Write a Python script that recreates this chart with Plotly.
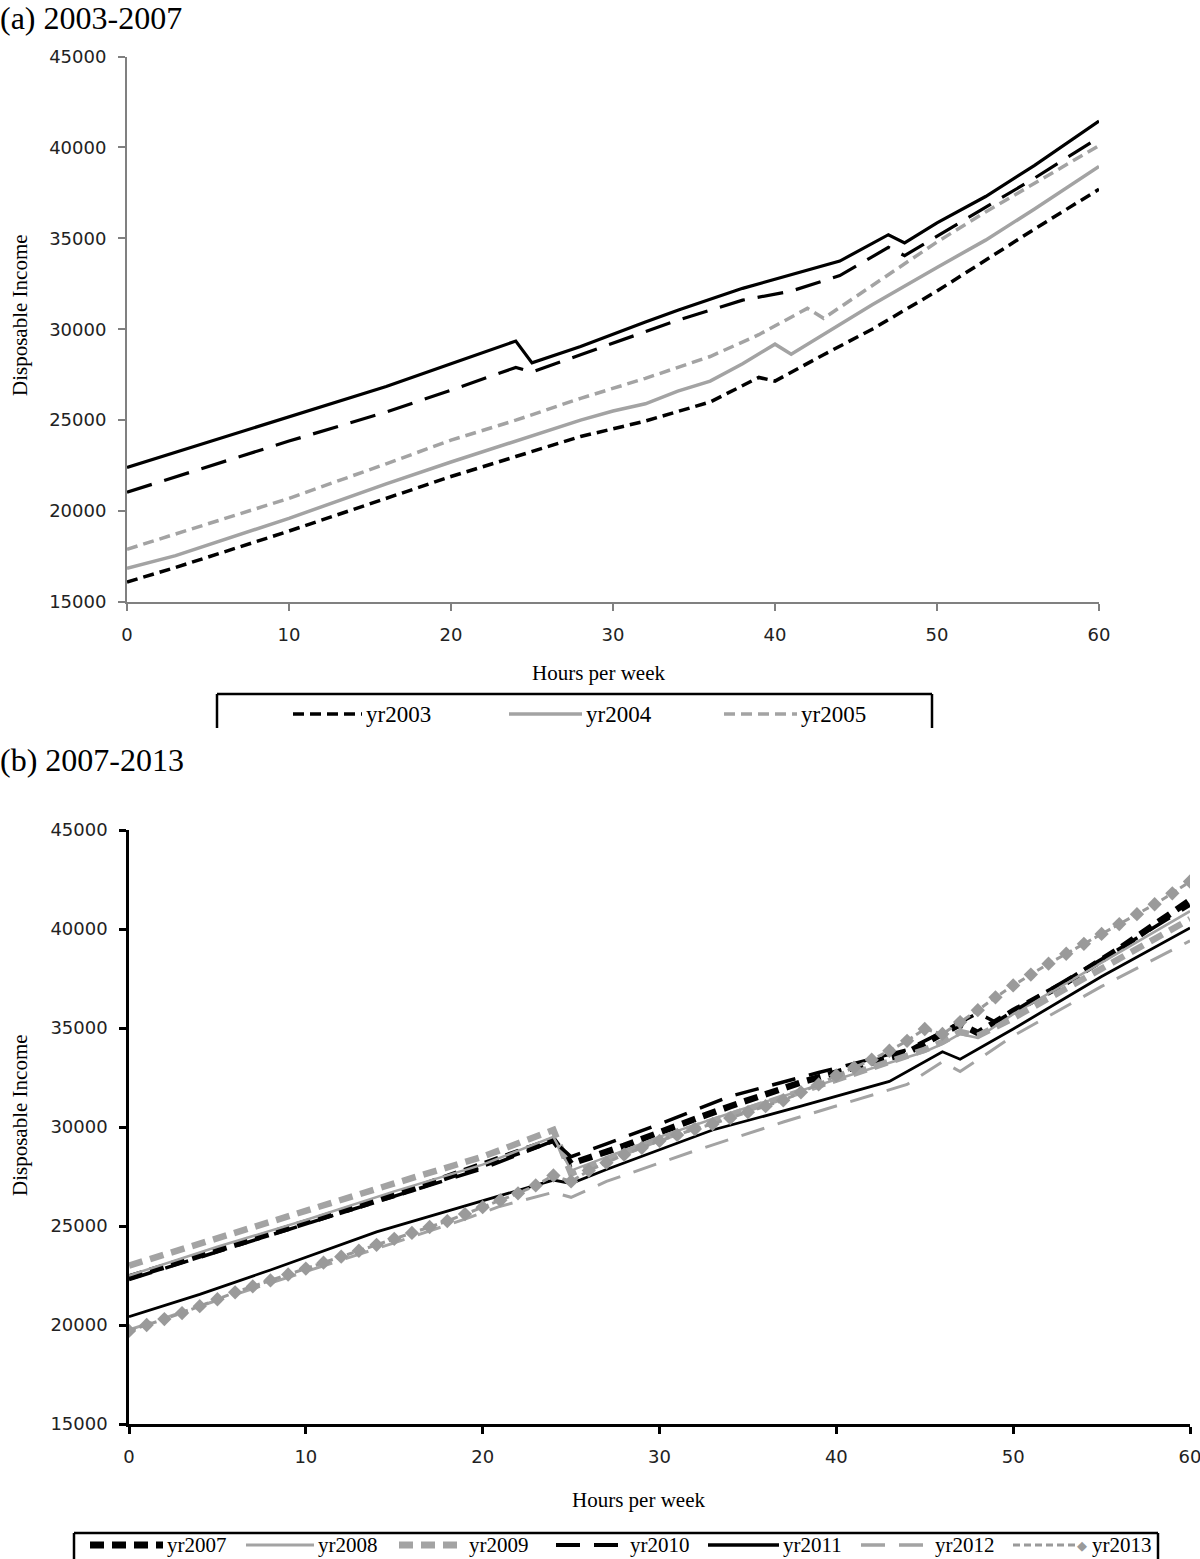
import plotly.graph_objects as go

W, H = 1200, 1559

# ---------------- Panel (a) data ----------------
a_2003_h = [0, 3, 10, 16, 20, 24, 28, 32, 34, 36, 39, 40, 43, 46, 50, 53, 56, 60]
a_2003_v = [16100, 16900, 18900, 20700, 21900, 23000, 24100, 24950, 25450, 26000, 27350, 27150, 28600, 30000, 32100, 33800, 35500, 37700]

a_2004_h = [0, 3, 10, 16, 20, 24, 28, 30, 32, 34, 36, 38, 40, 41, 44, 46, 50, 53, 56, 60]
a_2004_v = [16850, 17550, 19600, 21500, 22700, 23850, 25000, 25500, 25900, 26600, 27150, 28100, 29180, 28630, 30250, 31350, 33400, 34900, 36600, 38950]

a_2005_h = [0, 10, 16, 20, 24, 28, 32, 34, 36, 39, 42, 43, 46, 50, 53, 56, 60]
a_2005_v = [17900, 20700, 22600, 23900, 25000, 26200, 27300, 27900, 28500, 29700, 31150, 30600, 32400, 34800, 36450, 38000, 40100]

a_2006_h = [0, 10, 16, 20, 24, 25, 28, 32, 34, 38, 41, 44, 47, 48, 50, 53, 56, 60]
a_2006_v = [21040, 23850, 25450, 26650, 27900, 27650, 28600, 29850, 30500, 31600, 32100, 32950, 34500, 34050, 35100, 36700, 38300, 40550]

yr2007_h = [0, 10, 16, 20, 24, 25, 28, 32, 34, 38, 41, 44, 47, 48, 50, 53, 56, 60]
yr2007_v = [22400, 25200, 26850, 28100, 29350, 28150, 29050, 30400, 31050, 32250, 33000, 33750, 35200, 34750, 35850, 37300, 39000, 41450]

# ---------------- Panel (b) data ----------------
b_2008_h = [0, 5, 10, 15, 20, 24, 25, 28, 30, 35, 40, 45, 46, 47, 48, 50, 55, 60]
b_2008_v = [22500, 23950, 25300, 26750, 28100, 29500, 27800, 28800, 29500, 31000, 32400, 33800, 34200, 34700, 34500, 35700, 38300, 40900]

b_2009_h = [0, 5, 10, 15, 20, 24, 25, 28, 30, 35, 40, 45, 46, 47, 48, 50, 55, 60]
b_2009_v = [23000, 24400, 25800, 27150, 28500, 29850, 27650, 28700, 29400, 30900, 32400, 33900, 34300, 34800, 34600, 35500, 38000, 40500]

b_2010_h = [0, 5, 10, 15, 20, 24, 25, 27, 30, 34, 39, 44, 46, 48, 49, 52, 56, 60]
b_2010_v = [22300, 23700, 25100, 26500, 27900, 29300, 28500, 29150, 30150, 31550, 32750, 33900, 34800, 35750, 35300, 36900, 39000, 41200]

b_2011_h = [0, 4, 8, 14, 18, 24, 25, 27, 33, 38, 43, 46, 47, 50, 55, 60]
b_2011_v = [20420, 21550, 22780, 24700, 25750, 27320, 27150, 27850, 29850, 31050, 32300, 33800, 33420, 34950, 37600, 40050]

b_2012_h = [0, 5, 10, 15, 19, 21, 24, 25, 27, 32, 37, 42, 44, 46, 47, 50, 55, 60]
b_2012_v = [19750, 21250, 22700, 24150, 25350, 26000, 26700, 26450, 27250, 28800, 30250, 31600, 32150, 33300, 32800, 34600, 37100, 39400]

b_2013_h = list(range(0, 61))
b_2013_v = [19700, 20000, 20300, 20600, 20950, 21300, 21650, 21950, 22250, 22550,
            22850, 23150, 23450, 23750, 24050, 24350, 24650, 24950, 25250, 25600,
            25950, 26300, 26650, 27050, 27550, 27250, 27800, 28200, 28600, 28950,
            29300, 29600, 29900, 30150, 30450, 30750, 31050, 31350, 31750, 32150,
            32600, 33000, 33400, 33850, 34350, 34950, 34700, 35300, 35900, 36550,
            37150, 37700, 38250, 38750, 39250, 39750, 40250, 40750, 41250, 41800,
            42400]

x_ticks = [0, 10, 20, 30, 40, 50, 60]
y_ticks = [15000, 20000, 25000, 30000, 35000, 40000, 45000]
y_tick_text = ["15000", "20000", "25000", "30000", "35000", "40000", "45000"]

BLACK = "#000000"
GRAY = "#a3a3a3"
GRAY2 = "#9a9a9a"

def px(x):
    return x / W

def py(y):
    return 1 - y / H

fig = go.Figure()

# panel (a) traces
a_series = [
    ("yr2003", a_2003_h, a_2003_v, BLACK, 3.5, "11px,6px"),
    ("yr2004", a_2004_h, a_2004_v, GRAY, 3.5, "solid"),
    ("yr2005", a_2005_h, a_2005_v, GRAY, 3.5, "11px,6px"),
    ("yr2006", a_2006_h, a_2006_v, BLACK, 3.2, "26px,13px"),
    ("yr2007", yr2007_h, yr2007_v, BLACK, 3.2, "solid"),
]
for name, hx, vy, col, w, dash in a_series:
    fig.add_trace(go.Scatter(x=hx, y=vy, mode="lines", name=name,
                             line=dict(color=col, width=w, dash=dash),
                             xaxis="x", yaxis="y", showlegend=False))

# panel (b) traces
b_series = [
    ("yr2007", yr2007_h, yr2007_v, BLACK, 6.5, "14px,8px"),
    ("yr2008", b_2008_h, b_2008_v, GRAY, 2.5, "solid"),
    ("yr2009", b_2009_h, b_2009_v, GRAY, 6.5, "14px,8px"),
    ("yr2010", b_2010_h, b_2010_v, BLACK, 3.5, "24px,14px"),
    ("yr2011", b_2011_h, b_2011_v, BLACK, 2.8, "solid"),
    ("yr2012", b_2012_h, b_2012_v, GRAY, 3, "24px,14px"),
]
for name, hx, vy, col, w, dash in b_series:
    fig.add_trace(go.Scatter(x=hx, y=vy, mode="lines", name=name,
                             line=dict(color=col, width=w, dash=dash),
                             xaxis="x2", yaxis="y2", showlegend=False))
fig.add_trace(go.Scatter(x=b_2013_h, y=b_2013_v, mode="lines+markers", name="yr2013",
                         line=dict(color=GRAY2, width=3, dash="7px,4px"),
                         marker=dict(symbol="diamond", size=11, color=GRAY2),
                         xaxis="x2", yaxis="y2", showlegend=False))

tick_font = dict(family="DejaVu Sans", size=18, color="#222222")

def axis_style(col, lw):
    return dict(showline=True, linecolor=col, linewidth=lw, ticks="outside",
                ticklen=7, tickwidth=lw, tickcolor=col, showgrid=False,
                zeroline=False, tickfont=tick_font, ticklabelstandoff=8,
                automargin=False, ticklabeloverflow="allow")

fig.update_layout(
    width=W, height=H,
    margin=dict(l=0, r=0, t=0, b=0, autoexpand=False),
    paper_bgcolor="white", plot_bgcolor="white",
    showlegend=False,
    xaxis=dict(domain=[px(127), px(1099)], range=[0, 60], tickvals=x_ticks,
               anchor="y", **axis_style("#808080", 2)),
    yaxis=dict(domain=[py(602), py(56.5)], range=[15000, 45000], tickvals=y_ticks,
               ticktext=y_tick_text, anchor="x", **axis_style("#808080", 2)),
    xaxis2=dict(domain=[px(129), px(1190)], range=[0, 60], tickvals=x_ticks,
                anchor="y2", **axis_style("#000000", 2.5)),
    yaxis2=dict(domain=[py(1424), py(830)], range=[15000, 45000], tickvals=y_ticks,
                ticktext=y_tick_text, anchor="x2", **axis_style("#000000", 2.5)),
)

serif = "Liberation Serif"
ann = []
ann.append(dict(text="(a) 2003-2007", x=px(-2), y=py(18), xanchor="left", yanchor="middle",
                font=dict(family=serif, size=32, color="black")))
ann.append(dict(text="(b) 2007-2013", x=px(-2), y=py(760), xanchor="left", yanchor="middle",
                font=dict(family=serif, size=32, color="black")))
ann.append(dict(text="Hours per week", x=px(598), y=py(673), xanchor="center", yanchor="middle",
                font=dict(family=serif, size=21, color="black")))
ann.append(dict(text="Hours per week", x=px(638), y=py(1500), xanchor="center", yanchor="middle",
                font=dict(family=serif, size=21, color="black")))
ann.append(dict(text="Disposable Income", x=px(20), y=py(315), xanchor="center", yanchor="middle",
                textangle=-90, font=dict(family=serif, size=21, color="black")))
ann.append(dict(text="Disposable Income", x=px(20), y=py(1115), xanchor="center", yanchor="middle",
                textangle=-90, font=dict(family=serif, size=21, color="black")))

shapes = []
# legend box (a): top + sides, cropped at bottom
for (x0, y0, x1, y1) in [(217, 694, 932, 694), (217, 694, 217, 728), (932, 694, 932, 728)]:
    shapes.append(dict(type="line", xref="paper", yref="paper", x0=px(x0), y0=py(y0),
                       x1=px(x1), y1=py(y1), line=dict(color="black", width=2.5)))
leg_a = [
    ("yr2003", 293, 362, BLACK, 3.5, "11px,6px"),
    ("yr2004", 509, 582, GRAY, 3.5, "solid"),
    ("yr2005", 724, 797, GRAY, 3.5, "11px,6px"),
]
ly = 714
for name, x0, x1, col, w, dash in leg_a:
    shapes.append(dict(type="line", xref="paper", yref="paper", x0=px(x0), y0=py(ly),
                       x1=px(x1), y1=py(ly), line=dict(color=col, width=w, dash=dash)))
    ann.append(dict(text=name, x=px(x1 + 2), y=py(ly), xanchor="left", yanchor="middle",
                    font=dict(family=serif, size=23, color="black")))

# legend box (b)
for (x0, y0, x1, y1) in [(74, 1533, 1158, 1533), (74, 1533, 74, 1560), (1158, 1533, 1158, 1560)]:
    shapes.append(dict(type="line", xref="paper", yref="paper", x0=px(x0), y0=py(y0),
                       x1=px(x1), y1=py(y1), line=dict(color="black", width=2.5)))
leg_b = [
    ("yr2007", 90, 163, BLACK, 7, "14px,8px"),
    ("yr2008", 246, 314, GRAY, 3, "solid"),
    ("yr2009", 399, 465, GRAY, 7, "14px,8px"),
    ("yr2010", 556, 626, BLACK, 4, "24px,14px"),
    ("yr2011", 708, 779, BLACK, 3.5, "solid"),
    ("yr2012", 861, 931, GRAY, 3.5, "24px,14px"),
    ("yr2013", 1013, 1078, GRAY2, 3, "7px,4px"),
]
lby = 1545
for name, x0, x1, col, w, dash in leg_b:
    shapes.append(dict(type="line", xref="paper", yref="paper", x0=px(x0), y0=py(lby),
                       x1=px(x1), y1=py(lby), line=dict(color=col, width=w, dash=dash)))
    tx = x1 + 2 if name != "yr2013" else 1090
    ann.append(dict(text=name, x=px(tx), y=py(lby), xanchor="left", yanchor="middle",
                    font=dict(family=serif, size=21, color="black")))
ann.append(dict(text="◆", x=px(1082), y=py(lby), xanchor="center", yanchor="middle",
                font=dict(family="DejaVu Sans", size=13, color=GRAY2)))

for a in ann:
    a.setdefault("xref", "paper")
    a.setdefault("yref", "paper")
    a.setdefault("showarrow", False)

fig.update_layout(annotations=ann, shapes=shapes)

fig.write_html("out.html",
               config={"displayModeBar": False},
               post_script="document.body.style.margin='0';document.body.style.overflow='hidden';")
